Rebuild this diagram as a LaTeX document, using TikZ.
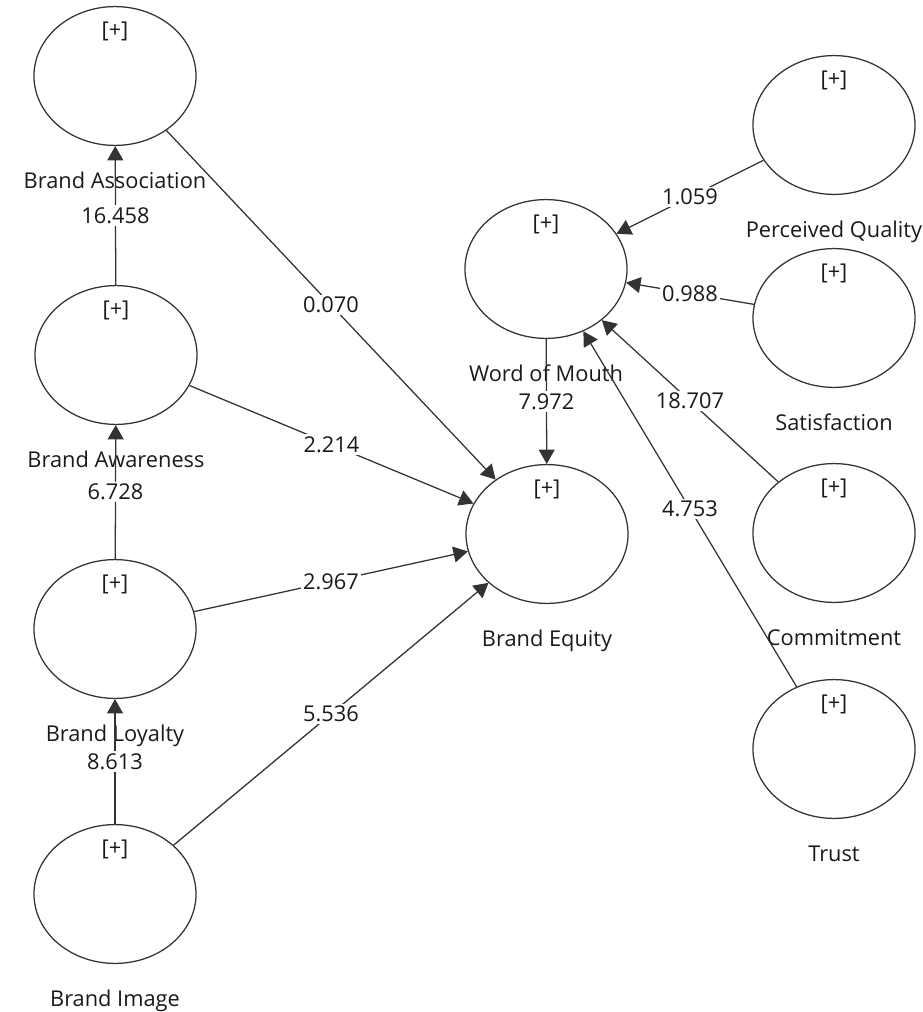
\documentclass[tikz,border=0pt]{standalone}
\usepackage{fontspec}
\setmainfont{Open Sans}
\usetikzlibrary{shapes.geometric,arrows.meta}

\definecolor{linegray}{HTML}{333333}
\definecolor{txtgray}{HTML}{1A1A1A}

\tikzset{
  lv/.style={ellipse,draw=linegray,line width=0.9pt,minimum width=4.05cm,minimum height=3.47cm,inner sep=0pt},
  plus/.style={anchor=base,inner sep=0pt,text=txtgray,font=\fontsize{15.5}{18}\selectfont},
  lvname/.style={anchor=base,inner sep=0pt,text=txtgray,font=\fontsize{15.5}{18}\selectfont},
  pathline/.style={draw=linegray,line width=0.9pt,-{Triangle[length=0.36cm,width=0.4cm]}},
  weight/.style={fill=white,inner sep=1.5pt,text=txtgray,font=\fontsize{15.5}{18}\selectfont}
}

\begin{document}
\begin{tikzpicture}[x=0.025cm,y=-0.025cm]
  \useasboundingbox (0,0) rectangle (922,1012);
  % Latent variables
  \foreach \n/\x/\y/\t in {bassoc/115/76/Brand Association,baware/116/355/Brand Awareness,
      bloyal/115/629/Brand Loyalty,bimage/115/894/Brand Image,bequity/547/534/Brand Equity,
      wom/546/269/Word of Mouth,pqual/834/125/Perceived Quality,satis/834/318/Satisfaction,
      commit/834/533/Commitment,trust/834/749/Trust} {
    \node[lv] (\n) at (\x,\y) {};
    \node[plus] (\n-plus) at ([yshift=-0.8cm]\n.north) {[+]};
    \node[lvname] (\n-name) at ([yshift=-1.07cm]\n.south) {\t};
  }
  % Brand chain
  \draw[pathline] (baware) -- node[weight] (w-assoc) {16.458} (bassoc);
  \draw[pathline] (bloyal) -- node[weight] (w-aware) {6.728} (baware);
  \draw[pathline] (bimage) -- node[weight] (w-loyal) {8.613} (bloyal);
  % Into brand equity
  \draw[pathline] (bassoc) -- node[weight] (w-assoc-eq) {0.070} (bequity);
  \draw[pathline] (baware) -- node[weight] (w-aware-eq) {2.214} (bequity);
  \draw[pathline] (bloyal) -- node[weight] (w-loyal-eq) {2.967} (bequity);
  \draw[pathline] (bimage) -- node[weight] (w-image-eq) {5.536} (bequity);
  \draw[pathline] (wom) -- node[weight] (w-wom-eq) {7.972} (bequity);
  % Into word of mouth
  \draw[pathline] (pqual) -- node[weight] (w-pqual) {1.059} (wom);
  \draw[pathline] (satis) -- node[weight] (w-satis) {0.988} (wom);
  \draw[pathline] (commit) -- node[weight] (w-commit) {18.707} (wom);
  \draw[pathline] (trust) -- node[weight] (w-trust) {4.753} (wom);
\end{tikzpicture}
\end{document}
